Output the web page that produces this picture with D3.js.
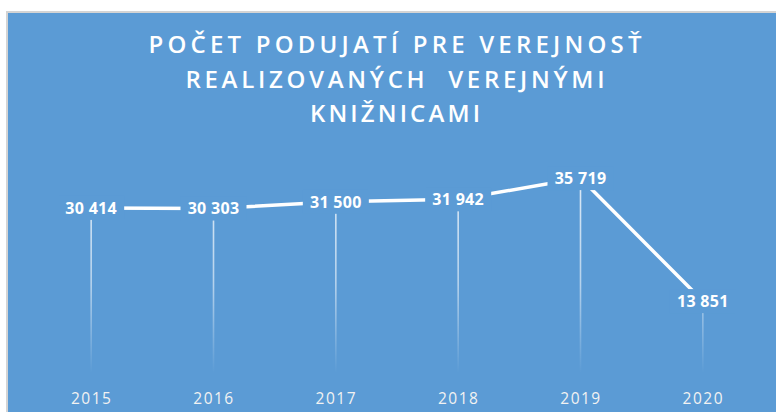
<!DOCTYPE html>
<html>
<head>
<meta charset="utf-8">
<script src="https://cdn.jsdelivr.net/npm/d3@7"></script>
<style>
  body { margin: 0; background: #fff; }
  svg { display: block; }
</style>
</head>
<body>
<div id="chart-area"></div>
<script>
var years = ["2015", "2016", "2017", "2018", "2019", "2020"];
var values = [30414, 30303, 31500, 31942, 35719, 13851];
var titleLines = ["POČET PODUJATÍ PRE VEREJNOSŤ", "REALIZOVANÝCH  VEREJNÝMI", "KNIŽNICAMI"];

var total_width = 776;
var total_height = 412;
var bg = "#5B9BD5";

var svg = d3.select('#chart-area').append('svg')
            .attr("width", total_width)
            .attr("height", total_height);

// chart frame
svg.append("rect")
   .attr("x", 7).attr("y", 12)
   .attr("width", total_width + 10).attr("height", total_height + 10)
   .attr("fill", bg)
   .attr("stroke", "#d4d4d4")
   .attr("stroke-width", 2);

// title
var titleWidths = [493, 419, 170];
svg.append("g").selectAll("text")
   .data(titleLines).enter().append("text")
   .attr("x", 395)
   .attr("y", (d, i) => 53 + i * 34.5)
   .attr("text-anchor", "middle")
   .attr("font-family", "'Open Sans', sans-serif")
   .attr("font-weight", 600)
   .attr("font-size", "24px")
   .attr("fill", "#fff")
   .attr("textLength", (d, i) => titleWidths[i])
   .attr("lengthAdjust", "spacing")
   .style("white-space", "pre")
   .text(d => d);

var data = years.map((y, i) => ({year: y, value: values[i]}));

var x = d3.scalePoint().domain(years).range([30, 764]).padding(0.5);
var y = d3.scaleLinear().domain([0, 40000]).range([379, 154]);

var fmt = d3.formatLocale({decimal: ",", thousands: " ", grouping: [3], currency: ["", " €"]}).format(",d");

// gradient for drop lines
var defs = svg.append("defs");
var grad = defs.append("linearGradient")
   .attr("id", "dropfade")
   .attr("gradientUnits", "userSpaceOnUse")
   .attr("x1", 0).attr("x2", 0)
   .attr("y1", y(36000)).attr("y2", 373);
grad.append("stop").attr("offset", "0%").attr("stop-color", "#fff").attr("stop-opacity", 0.8);
grad.append("stop").attr("offset", "55%").attr("stop-color", "#fff").attr("stop-opacity", 0.55);
grad.append("stop").attr("offset", "100%").attr("stop-color", "#fff").attr("stop-opacity", 0);

var chart = svg.append("g");

chart.selectAll(".drop").data(data).enter().append("line")
     .attr("class", "drop")
     .attr("x1", d => x(d.year)).attr("x2", d => x(d.year))
     .attr("y1", d => y(d.value)).attr("y2", 373)
     .attr("stroke", "url(#dropfade)")
     .attr("stroke-width", 1.6);

var lineFunction = d3.line()
     .x(d => x(d.year))
     .y(d => y(d.value));

chart.append("path")
     .datum(data)
     .attr("d", lineFunction)
     .attr("fill", "none")
     .attr("stroke", "#fff")
     .attr("stroke-width", 3.5)
     .attr("stroke-linejoin", "round");

// value labels with background boxes
var labels = chart.selectAll(".lbl").data(data).enter().append("g")
     .attr("class", "lbl")
     .attr("transform", d => "translate(" + x(d.year) + "," + y(d.value) + ")");

labels.append("rect")
     .attr("x", -33).attr("y", -12)
     .attr("width", 66).attr("height", 24)
     .attr("fill", bg);

labels.append("text")
     .attr("text-anchor", "middle")
     .attr("dy", "0.36em")
     .attr("font-family", "'Open Sans', sans-serif")
     .attr("font-weight", 700)
     .attr("font-size", "16px")
     .attr("letter-spacing", "0.3px")
     .attr("fill", "#fff")
     .text(d => fmt(d.value));

// x axis labels
var xAxis = d3.axisBottom(x).tickSize(0).tickPadding(0);
var axisG = svg.append("g")
     .attr("transform", "translate(0,393)")
     .call(xAxis);
axisG.select(".domain").remove();
axisG.selectAll("text")
     .attr("dy", "0.71em")
     .attr("font-family", "'Open Sans', sans-serif")
     .attr("font-size", "15.5px")
     .attr("letter-spacing", "1.5px")
     .attr("fill", "#f2f2f2");
</script>
</body>
</html>
